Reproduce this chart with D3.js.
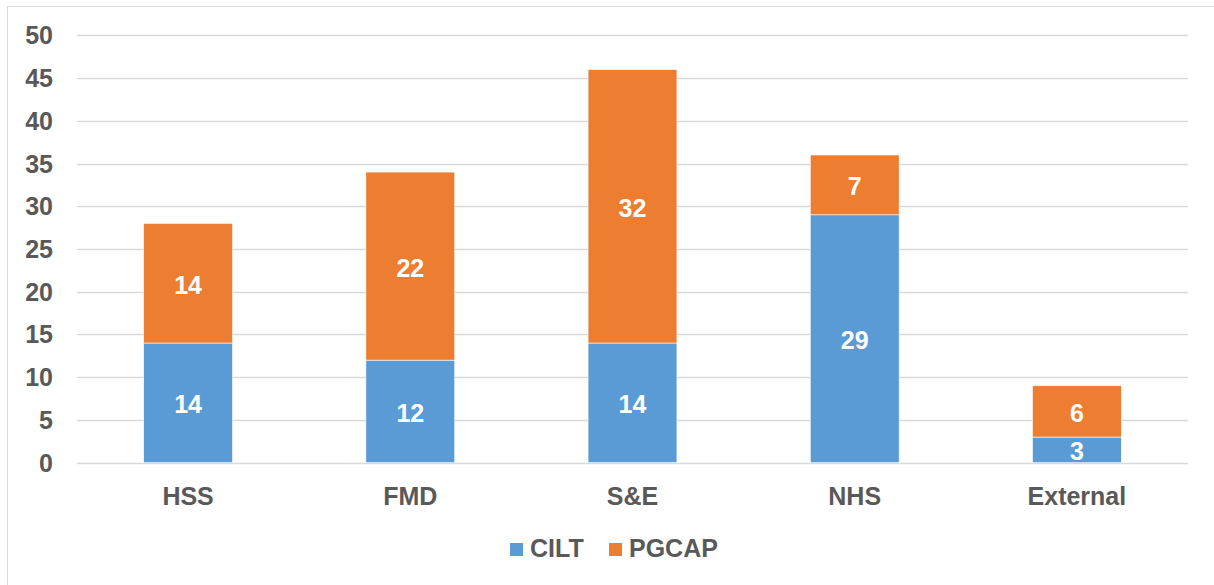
<!DOCTYPE html>
<html>
<head>
<meta charset="utf-8">
<script src="https://cdn.jsdelivr.net/npm/d3@7"></script>
<style>
  html, body { margin: 0; padding: 0; background: #fff; }
  svg { display: block; }
</style>
</head>
<body>
<div id="container"></div>
<script>
const categories = ['HSS', 'FMD', 'S&E', 'NHS', 'External'];
const cilt = [14, 12, 14, 29, 3];
const pgcap = [14, 22, 32, 7, 6];
const seriesNames = ['CILT', 'PGCAP'];
const yTicks = [0, 5, 10, 15, 20, 25, 30, 35, 40, 45, 50];

const colors = { CILT: '#5B9BD5', PGCAP: '#ED7D31' };
const W = 1214, H = 585;
const font = 'Liberation Sans, Arial, sans-serif';
const textColor = '#595959';

const svg = d3.select('#container')
    .append('svg')
    .attr('width', W)
    .attr('height', H);

// chart frame (only top/left edges show in the picture)
svg.append('rect')
    .attr('x', 7.5)
    .attr('y', 6.5)
    .attr('width', W + 10)
    .attr('height', H + 10)
    .attr('fill', 'none')
    .attr('stroke', '#d9d9d9')
    .attr('stroke-width', 1);

const plot = { left: 77, right: 1188, top: 35.3, bottom: 462.7 };

const x = d3.scaleBand()
    .domain(categories)
    .range([plot.left, plot.right])
    .paddingInner(0.6)
    .paddingOuter(0.3);

const y = d3.scaleLinear()
    .domain([0, 50])
    .range([plot.bottom, plot.top]);

// gridlines
svg.append('g')
    .selectAll('line')
    .data(yTicks)
    .enter()
    .append('line')
    .attr('x1', plot.left)
    .attr('x2', plot.right)
    .attr('y1', d => Math.round(y(d)) + 0.5)
    .attr('y2', d => Math.round(y(d)) + 0.5)
    .attr('stroke', '#d9d9d9')
    .attr('stroke-width', 1.3);

// y tick labels
svg.append('g')
    .selectAll('text')
    .data(yTicks)
    .enter()
    .append('text')
    .attr('x', 53)
    .attr('y', d => y(d) + 9)
    .attr('text-anchor', 'end')
    .attr('font-family', font)
    .attr('font-weight', 'bold')
    .attr('font-size', 25)
    .attr('fill', textColor)
    .text(d => d);

const rows = categories.map((c, i) => ({ cat: c, CILT: cilt[i], PGCAP: pgcap[i] }));
const stacked = d3.stack().keys(seriesNames)(rows);

const layers = svg.append('g')
    .selectAll('g')
    .data(stacked)
    .enter()
    .append('g')
    .attr('fill', d => colors[d.key]);

layers.selectAll('rect')
    .data(d => d)
    .enter()
    .append('rect')
    .attr('x', d => x(d.data.cat))
    .attr('width', x.bandwidth())
    .attr('y', d => y(d[1]))
    .attr('height', d => y(d[0]) - y(d[1]))
    .attr('stroke', '#fff')
    .attr('stroke-width', 0.6);

// data labels
layers.selectAll('text')
    .data(d => d)
    .enter()
    .append('text')
    .attr('x', d => x(d.data.cat) + x.bandwidth() / 2)
    .attr('y', d => (y(d[0]) + y(d[1])) / 2 + 10.5)
    .attr('text-anchor', 'middle')
    .attr('font-family', font)
    .attr('font-weight', 'bold')
    .attr('font-size', 25)
    .attr('fill', '#fff')
    .text(d => d[1] - d[0]);

// x labels
svg.append('g')
    .selectAll('text')
    .data(categories)
    .enter()
    .append('text')
    .attr('x', d => x(d) + x.bandwidth() / 2)
    .attr('y', 505)
    .attr('text-anchor', 'middle')
    .attr('font-family', font)
    .attr('font-weight', 'bold')
    .attr('font-size', 25)
    .attr('fill', textColor)
    .text(d => d);

// legend
const legendX = [510, 609];
const legend = svg.append('g')
    .selectAll('g')
    .data(seriesNames)
    .enter()
    .append('g')
    .attr('transform', (d, i) => `translate(${legendX[i]},543)`);

legend.append('rect')
    .attr('width', 13)
    .attr('height', 13)
    .attr('fill', d => colors[d]);

legend.append('text')
    .attr('x', 20)
    .attr('y', 14)
    .attr('font-family', font)
    .attr('font-weight', 'bold')
    .attr('font-size', 25)
    .attr('fill', textColor)
    .text(d => d);
</script>
</body>
</html>
